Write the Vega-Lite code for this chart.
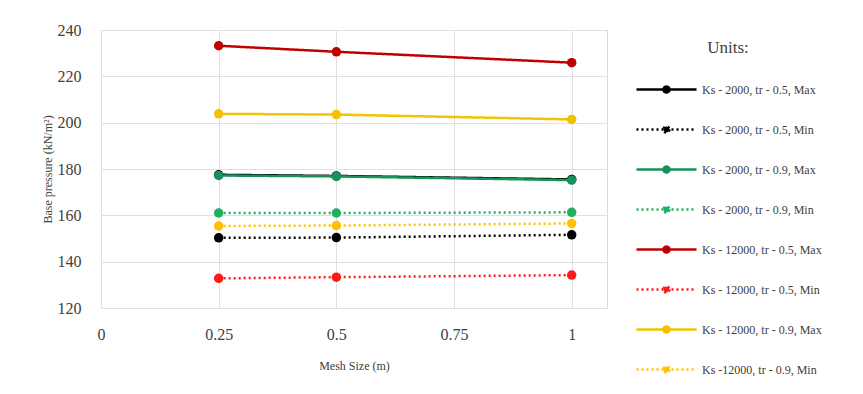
{
  "$schema": "https://vega.github.io/schema/vega-lite/v6.json",
  "width": 506,
  "height": 278,
  "autosize": {"type": "none"},
  "padding": {"left": 101, "top": 30, "right": 256, "bottom": 86},
  "background": "white",
  "config": {
    "font": "Liberation Serif",
    "view": {"stroke": "#d9d9d9", "strokeWidth": 1},
    "axis": {"gridColor": "#e0e0e0", "domain": false, "ticks": false, "labelFont": "Liberation Serif", "titleFont": "Liberation Serif", "labelColor": "#404040", "titleColor": "#404040", "titleFontWeight": "normal"}
  },
  "data": {"values": [
    {"series": "Ks - 2000, tr - 0.5, Max", "x": 0.25, "y": 177.5},
    {"series": "Ks - 2000, tr - 0.5, Max", "x": 0.5, "y": 177},
    {"series": "Ks - 2000, tr - 0.5, Max", "x": 1, "y": 175.5},
    {"series": "Ks - 2000, tr - 0.5, Min", "x": 0.25, "y": 150.3},
    {"series": "Ks - 2000, tr - 0.5, Min", "x": 0.5, "y": 150.4},
    {"series": "Ks - 2000, tr - 0.5, Min", "x": 1, "y": 151.6},
    {"series": "Ks - 2000, tr - 0.9, Max", "x": 0.25, "y": 177.2},
    {"series": "Ks - 2000, tr - 0.9, Max", "x": 0.5, "y": 176.8},
    {"series": "Ks - 2000, tr - 0.9, Max", "x": 1, "y": 175.2},
    {"series": "Ks - 2000, tr - 0.9, Min", "x": 0.25, "y": 161},
    {"series": "Ks - 2000, tr - 0.9, Min", "x": 0.5, "y": 161},
    {"series": "Ks - 2000, tr - 0.9, Min", "x": 1, "y": 161.3},
    {"series": "Ks - 12000, tr - 0.5, Max", "x": 0.25, "y": 233.2},
    {"series": "Ks - 12000, tr - 0.5, Max", "x": 0.5, "y": 230.6},
    {"series": "Ks - 12000, tr - 0.5, Max", "x": 1, "y": 225.9},
    {"series": "Ks - 12000, tr - 0.5, Min", "x": 0.25, "y": 132.8},
    {"series": "Ks - 12000, tr - 0.5, Min", "x": 0.5, "y": 133.3},
    {"series": "Ks - 12000, tr - 0.5, Min", "x": 1, "y": 134.2},
    {"series": "Ks - 12000, tr - 0.9, Max", "x": 0.25, "y": 203.8},
    {"series": "Ks - 12000, tr - 0.9, Max", "x": 0.5, "y": 203.5},
    {"series": "Ks - 12000, tr - 0.9, Max", "x": 1, "y": 201.4},
    {"series": "Ks -12000, tr - 0.9, Min", "x": 0.25, "y": 155.4},
    {"series": "Ks -12000, tr - 0.9, Min", "x": 0.5, "y": 155.6},
    {"series": "Ks -12000, tr - 0.9, Min", "x": 1, "y": 156.5}
  ]},
  "encoding": {
    "x": {"field": "x", "type": "quantitative", "scale": {"domain": [0, 1.075], "nice": false, "zero": false},
      "axis": {"values": [0, 0.25, 0.5, 0.75, 1], "labelExpr": "'' + datum.value", "title": "Mesh Size (m)", "labelFontSize": 16, "labelPadding": 18, "titleFontSize": 12, "titlePadding": 18, "labelFlush": false}},
    "y": {"field": "y", "type": "quantitative", "scale": {"domain": [120, 240], "nice": false, "zero": false},
      "axis": {"values": [120, 140, 160, 180, 200, 220, 240], "title": "Base pressure (kN/m²)", "labelFontSize": 16, "labelPadding": 20, "titleFontSize": 12, "titlePadding": 3}},
    "color": {"field": "series", "type": "nominal",
      "scale": {"domain": ["Ks - 2000, tr - 0.5, Max", "Ks - 2000, tr - 0.5, Min", "Ks - 2000, tr - 0.9, Max", "Ks - 2000, tr - 0.9, Min", "Ks - 12000, tr - 0.5, Max", "Ks - 12000, tr - 0.5, Min", "Ks - 12000, tr - 0.9, Max", "Ks -12000, tr - 0.9, Min"],
        "range": ["#000000", "#000000", "#16935a", "#20b060", "#c00000", "#ff1a1a", "#f2c200", "#ffc000"]}}
  },
  "layer": [
    {
      "mark": {"type": "line", "strokeWidth": 2.5},
      "encoding": {
        "strokeDash": {"field": "series", "type": "nominal",
          "scale": {"domain": ["Ks - 2000, tr - 0.5, Max", "Ks - 2000, tr - 0.5, Min", "Ks - 2000, tr - 0.9, Max", "Ks - 2000, tr - 0.9, Min", "Ks - 12000, tr - 0.5, Max", "Ks - 12000, tr - 0.5, Min", "Ks - 12000, tr - 0.9, Max", "Ks -12000, tr - 0.9, Min"],
            "range": [[1, 0], [2, 3], [1, 0], [2, 3], [1, 0], [2, 3], [1, 0], [2, 3]]}},
        "color": {"field": "series", "type": "nominal",
          "legend": {"title": "Units:", "orient": "none", "legendX": 534, "legendY": 10, "titleFontSize": 17, "titleFont": "Liberation Serif", "titleFontWeight": "normal", "titleColor": "#404040", "titleAnchor": "middle", "titlePadding": 1, "labelFont": "Liberation Serif", "labelFontSize": 12, "labelColor": "#404040", "labelOffset": 4, "rowPadding": 0, "symbolType": "M-1,0L1,0M0.1,0A0.1,0.1 0 1 1 -0.1,0A0.1,0.1 0 1 1 0.1,0", "symbolSize": 3600, "symbolStrokeWidth": 2.5, "labelLimit": 200}}
      }
    },
    {
      "mark": {"type": "point", "filled": true, "size": 90, "opacity": 1},
      "encoding": {"color": {"field": "series", "type": "nominal", "legend": null}}
    }
  ]
}
